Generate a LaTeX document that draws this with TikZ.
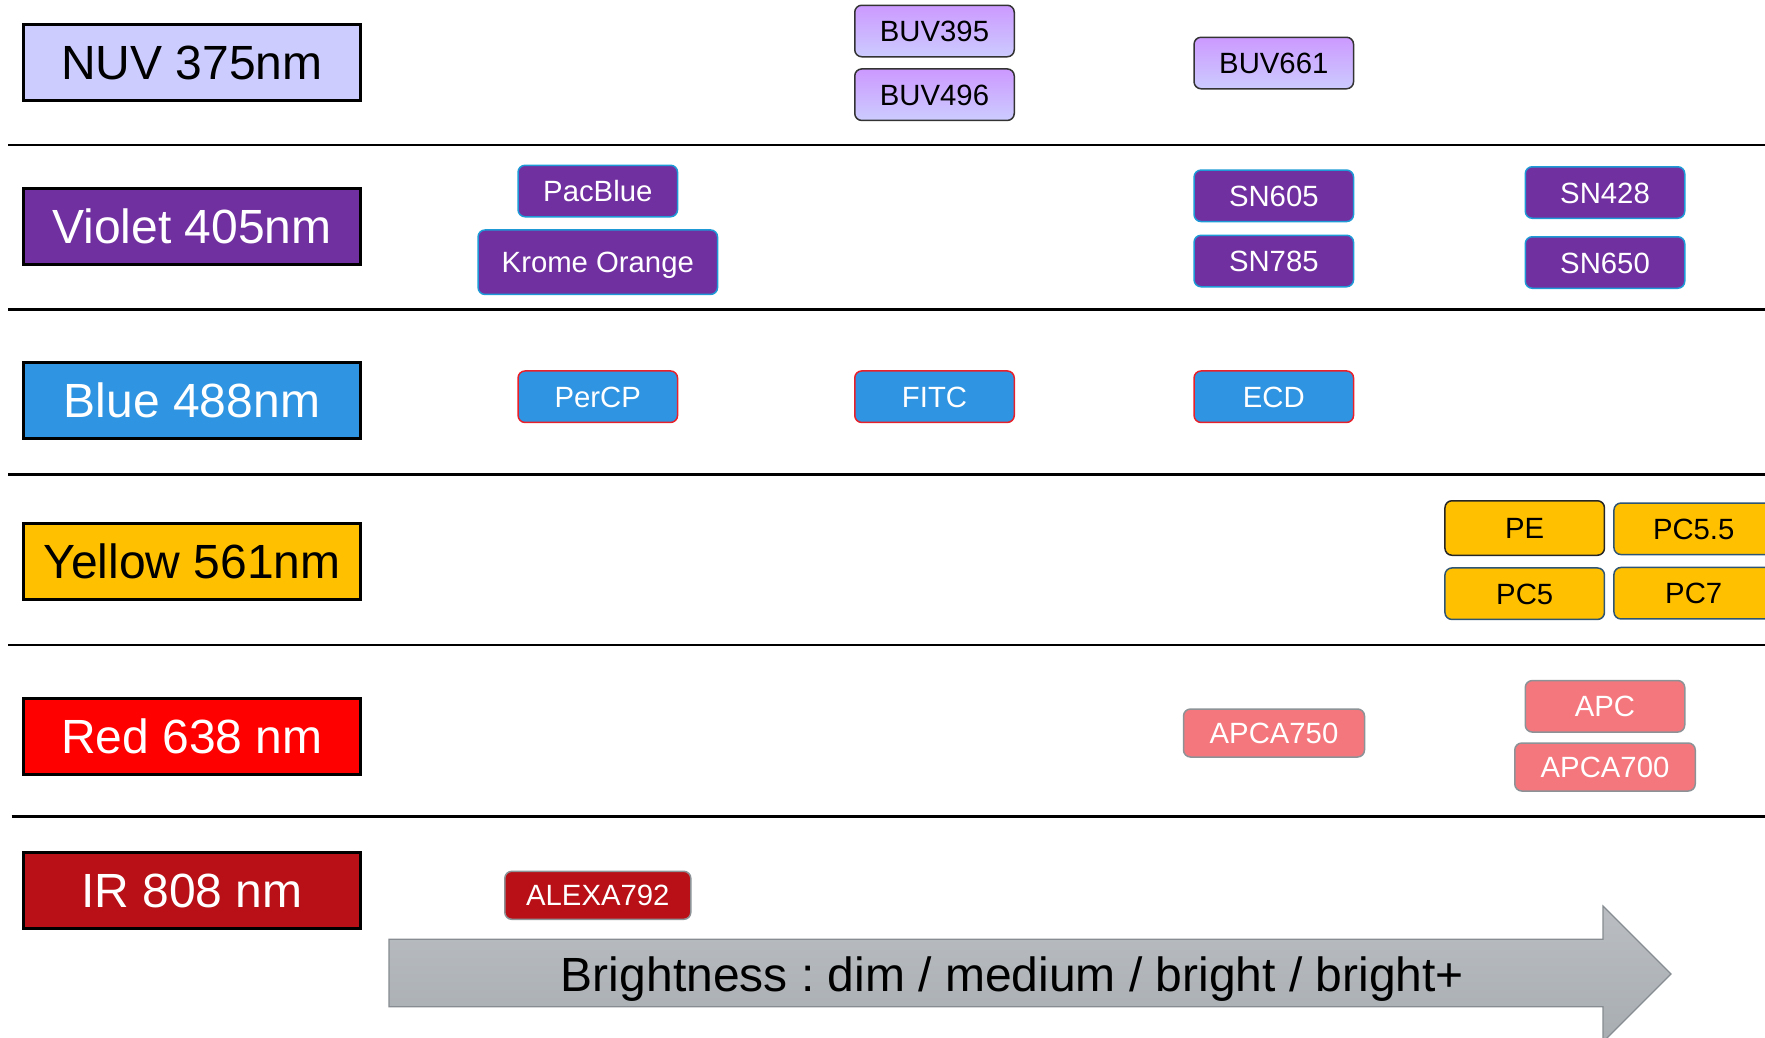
\documentclass[tikz,border=0pt]{standalone}
\usepackage{fontspec}
\setmainfont{Liberation Sans}
\frenchspacing
\definecolor{nuvfill}{HTML}{CCCCFF}
\definecolor{buvtop}{HTML}{CC99FF}
\definecolor{violetfill}{HTML}{7030A0}
\definecolor{bluefill}{HTML}{2F95E2}
\definecolor{yellowfill}{HTML}{FFC000}
\definecolor{redfill}{HTML}{FF0000}
\definecolor{irfill}{HTML}{B81016}
\definecolor{snborder}{HTML}{1E9BD7}
\definecolor{redborder}{HTML}{E8202A}
\definecolor{pcborder}{HTML}{2F5575}
\definecolor{apcfill}{HTML}{F4777D}
\definecolor{grayborder}{HTML}{8C9296}
\definecolor{arrowtop}{HTML}{BABEC2}
\definecolor{arrowbot}{HTML}{A8ADB1}
\definecolor{arrowborder}{HTML}{868C91}
\begin{document}
\begin{tikzpicture}[x=1pt,y=-1pt,
  lab/.style={draw=black, line width=3pt, minimum width=337pt, minimum height=76pt,
    inner sep=0pt, text height=34.4pt, text depth=0pt, font=\fontsize{48}{52}\selectfont},
  tag/.style={rounded corners=7pt, line width=1.5pt, minimum width=159.5pt, minimum height=51.5pt,
    inner sep=0pt, text height=21pt, text depth=0pt, font=\fontsize{29.3}{31}\selectfont},
  buv/.style={tag, draw=black!80, top color=buvtop, bottom color=nuvfill, text=black},
  sn/.style={tag, draw=snborder, fill=violetfill, text=white},
  bl/.style={tag, draw=redborder, fill=bluefill, text=white},
  ye/.style={tag, draw=pcborder, fill=yellowfill, text=black},
  ap/.style={tag, draw=grayborder, fill=apcfill, text=white},
  sepline/.style={line width=2.6pt, black}
]
\useasboundingbox (0,0) rectangle (1765,1037);
\clip (0,0) rectangle (1765,1037);

% separator lines
\coordinate (l1a) at (8,145);    \coordinate (l1b) at (1765,145);
\coordinate (l2a) at (8,309.5);  \coordinate (l2b) at (1765,309.5);
\coordinate (l3a) at (8,474.3);  \coordinate (l3b) at (1765,474.3);
\coordinate (l4a) at (8,645);    \coordinate (l4b) at (1765,645);
\coordinate (l5a) at (11.7,816.7); \coordinate (l5b) at (1765,816.7);
\draw[sepline] (l1a) -- (l1b);
\draw[sepline] (l2a) -- (l2b);
\draw[sepline] (l3a) -- (l3b);
\draw[sepline] (l4a) -- (l4b);
\draw[sepline] (l5a) -- (l5b);

% laser labels
\node[lab, fill=nuvfill, text=black] (nuv) at (192,62.5) {NUV 375nm};
\node[lab, fill=violetfill, text=white] (violet) at (192,226.3) {Violet 405nm};
\node[lab, fill=bluefill, text=white] (blue) at (192,400.5) {Blue 488nm};
\node[lab, fill=yellowfill, text=black] (yellow) at (192,561.5) {Yellow 561nm};
\node[lab, fill=redfill, text=white] (red) at (192,736.2) {Red 638 nm};
\node[lab, fill=irfill, text=white] (ir) at (192,890) {IR 808 nm};

% NUV row
\node[buv] (buv395) at (934.5,31) {BUV395};
\node[buv] (buv496) at (934.5,94.7) {BUV496};
\node[buv] (buv661) at (1273.8,63) {BUV661};

% Violet row
\node[sn] (pacblue) at (597.8,191) {PacBlue};
\node[sn, minimum width=239.5pt, minimum height=64.5pt] (krome) at (597.8,262.2) {Krome Orange};
\node[sn] (sn605) at (1273.8,195.8) {SN605};
\node[sn] (sn785) at (1273.8,261) {SN785};
\node[sn] (sn428) at (1605,192.5) {SN428};
\node[sn] (sn650) at (1605,262.5) {SN650};

% Blue row
\node[bl] (percp) at (597.8,396.7) {PerCP};
\node[bl] (fitc) at (934.5,396.7) {FITC};
\node[bl] (ecd) at (1273.8,396.7) {ECD};

% Yellow row
\node[ye, draw=black!85, minimum height=54.5pt] (pe) at (1524.7,528) {PE};
\node[ye] (pc55) at (1693.7,528.8) {PC5.5};
\node[ye] (pc5) at (1524.7,593.7) {PC5};
\node[ye] (pc7) at (1693.7,593.2) {PC7};

% Red row
\node[ap, minimum width=181pt, minimum height=48pt] (apca750) at (1274,733) {APCA750};
\node[ap] (apc) at (1605,706.3) {APC};
\node[ap, minimum width=180.5pt, minimum height=48pt] (apca700) at (1605,767) {APCA700};

% IR row
\node[ap, fill=irfill, minimum width=186pt, minimum height=48pt] (alexa) at (597.8,895.3) {ALEXA792};

% brightness arrow
\draw[draw=arrowborder, line width=1.2pt, top color=arrowtop, bottom color=arrowbot]
  (389,939.3) -- (1603,939.3) -- (1603,906) -- (1671,974) -- (1603,1042)
  -- (1603,1006.7) -- (389,1006.7) -- cycle;
\node[inner sep=0pt, text height=34.4pt, text depth=0pt, font=\fontsize{48}{52}\selectfont\frenchspacing] (bright)
  at (1012.5,974) {Brightness : dim / medium / bright / bright+};
\end{tikzpicture}
\end{document}
